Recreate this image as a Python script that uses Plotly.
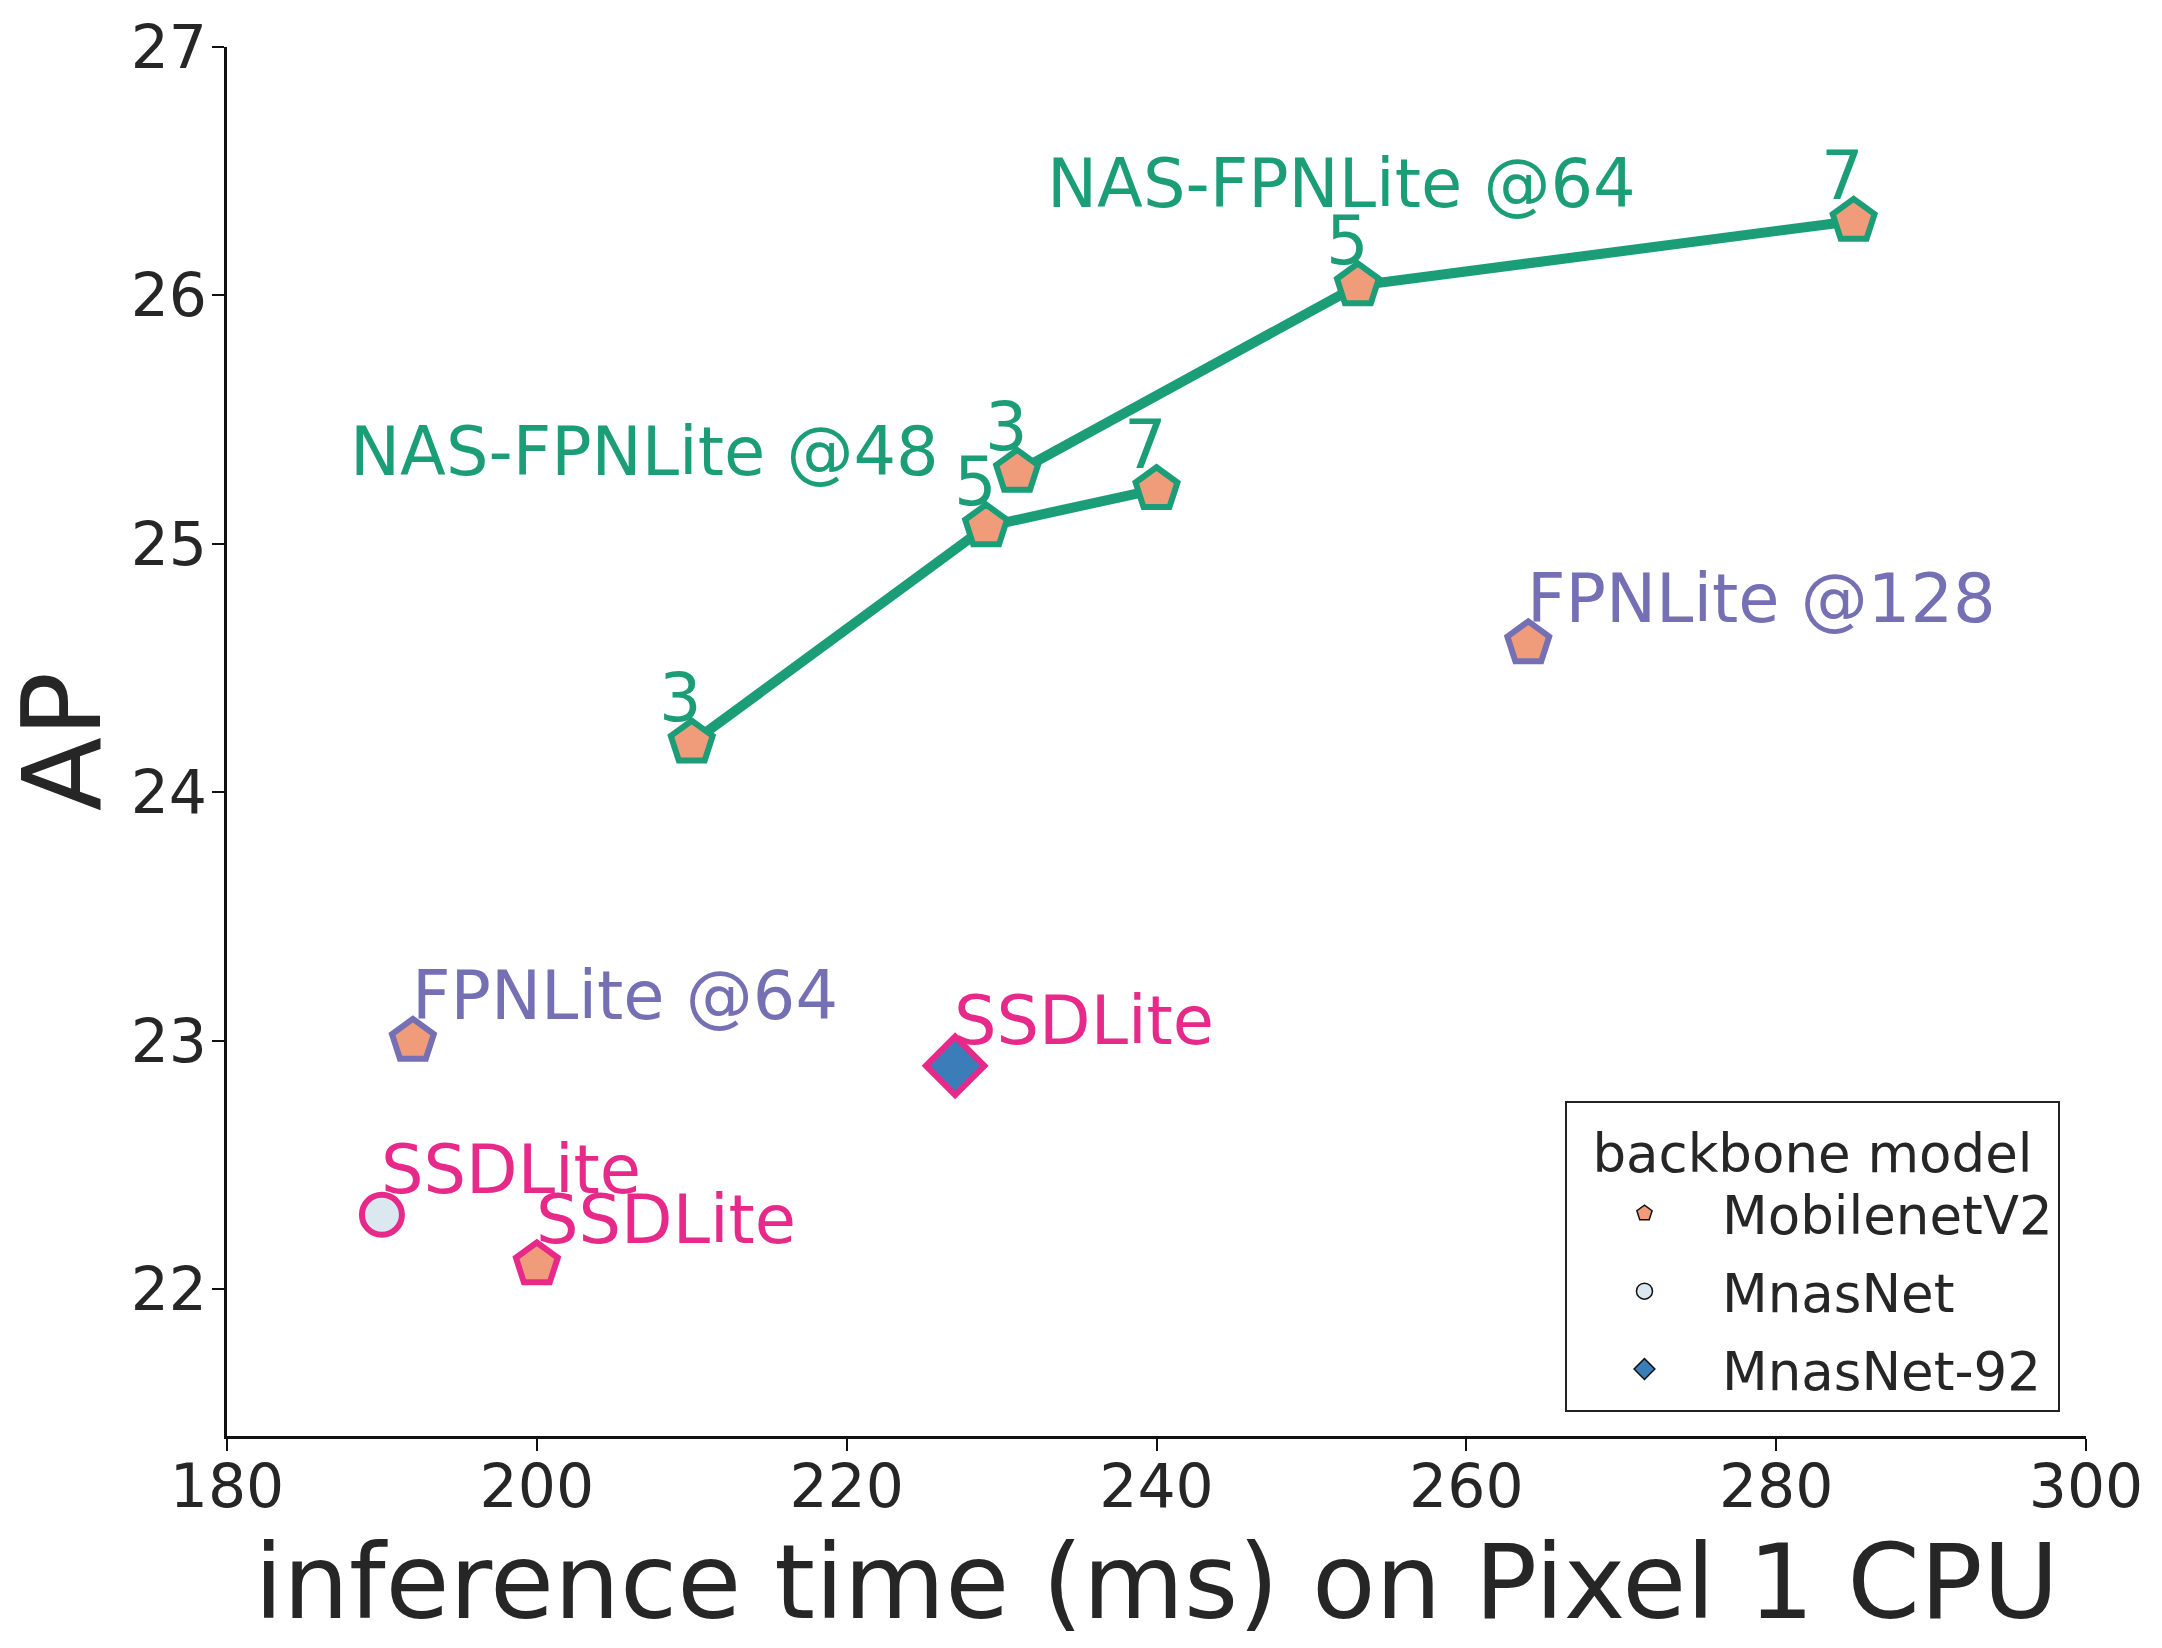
import plotly.graph_objects as go

# ---------------- data ----------------
nas48_x = [210, 229, 240]
nas48_y = [24.2, 25.07, 25.22]
nas64_x = [231, 253, 285]
nas64_y = [25.29, 26.04, 26.30]
kernel_labels = ["3", "5", "7"]

fpn_x = [192, 264]
fpn_y = [23.0, 24.6]
fpn_labels = ["FPNLite @64", "FPNLite @128"]

ssd_x = [190, 200, 227]
ssd_y = [22.3, 22.1, 22.9]
ssd_backbone = ["MnasNet", "MobilenetV2", "MnasNet-92"]
ssd_labels = ["SSDLite", "SSDLite", "SSDLite"]

nas_group_labels = ["NAS-FPNLite @48", "NAS-FPNLite @64"]
nas_group_label_pos = [(187.8, 25.37), (232.8, 26.45)]

backbones = ["MobilenetV2", "MnasNet", "MnasNet-92"]
x_ticks = [180, 200, 220, 240, 260, 280, 300]
y_ticks = [22, 23, 24, 25, 26, 27]

# ---------------- styles ----------------
GREEN = "#1b9e77"
PURPLE = "#7570b3"
PINK = "#e7298a"
TEXT = "#262626"
FONT = "DejaVu Sans"
bb_fill = {"MobilenetV2": "#f09c7b", "MnasNet": "#dbe8f0", "MnasNet-92": "#3a7db8"}
bb_symbol = {"MobilenetV2": "pentagon", "MnasNet": "circle", "MnasNet-92": "diamond"}
bb_size = {"MobilenetV2": 44, "MnasNet": 40, "MnasNet-92": 45}
EDGE_W = 6

fig = go.Figure()

# NAS-FPNLite lines
for xs, ys in [(nas48_x, nas48_y), (nas64_x, nas64_y)]:
    fig.add_trace(go.Scatter(
        x=xs, y=ys, mode="lines+markers", showlegend=False,
        line=dict(color=GREEN, width=10),
        marker=dict(symbol="pentagon", size=bb_size["MobilenetV2"], opacity=1,
                    color=bb_fill["MobilenetV2"], line=dict(color=GREEN, width=EDGE_W)),
        hoverinfo="skip"))

# FPNLite points
fig.add_trace(go.Scatter(
    x=fpn_x, y=fpn_y, mode="markers", showlegend=False,
    marker=dict(symbol="pentagon", size=bb_size["MobilenetV2"], opacity=1,
                color=bb_fill["MobilenetV2"], line=dict(color=PURPLE, width=EDGE_W))))

# SSDLite points
fig.add_trace(go.Scatter(
    x=ssd_x, y=ssd_y, mode="markers", showlegend=False,
    marker=dict(symbol=[bb_symbol[b] for b in ssd_backbone],
                size=[bb_size[b] for b in ssd_backbone],
                color=[bb_fill[b] for b in ssd_backbone], opacity=1,
                line=dict(color=PINK, width=EDGE_W))))

# legend entries
for b in backbones:
    fig.add_trace(go.Scatter(
        x=[None], y=[None], mode="markers", name=b, legendgroup=b,
        marker=dict(symbol=bb_symbol[b], size=bb_size[b], color=bb_fill[b], opacity=1,
                    line=dict(color="#111111", width=1.5))))

ann_font = dict(family=FONT, size=67)

# kernel size labels
for xs, ys in [(nas48_x, nas48_y), (nas64_x, nas64_y)]:
    for x, y, k in zip(xs, ys, kernel_labels):
        fig.add_annotation(x=x - 0.7, y=y + 0.18, text=k, showarrow=False,
                           xanchor="center", yanchor="middle",
                           font=dict(ann_font, color=GREEN))

for (lx, ly), t in zip(nas_group_label_pos, nas_group_labels):
    fig.add_annotation(x=lx, y=ly, text=t, showarrow=False,
                       xanchor="left", yanchor="middle",
                       font=dict(ann_font, color=GREEN))

for x, y, t in zip(fpn_x, fpn_y, fpn_labels):
    fig.add_annotation(x=x - 0.2, y=y + 0.18, text=t, showarrow=False,
                       xanchor="left", yanchor="middle",
                       font=dict(ann_font, color=PURPLE))

for x, y, t in zip(ssd_x, ssd_y, ssd_labels):
    fig.add_annotation(x=x - 0.2, y=y + 0.18, text=t, showarrow=False,
                       xanchor="left", yanchor="middle",
                       font=dict(ann_font, color=PINK))

axis_common = dict(
    showgrid=False, zeroline=False, showline=True, linecolor="#111111", linewidth=3,
    ticks="outside", ticklen=12, tickwidth=2, tickcolor="#111111",
    tickfont=dict(family=FONT, size=60, color=TEXT),
)

fig.update_layout(
    width=2162, height=1648,
    margin=dict(l=227, r=76, t=44, b=212),
    paper_bgcolor="white", plot_bgcolor="white",
    font=dict(family=FONT, color=TEXT),
    xaxis=dict(axis_common, range=[180, 300], tickvals=x_ticks,
               ticklabelstandoff=-16,
               title=dict(text="inference time (ms) on Pixel 1 CPU",
                          font=dict(family=FONT, size=104, color=TEXT), standoff=20)),
    yaxis=dict(axis_common, range=[21.41, 27], tickvals=y_ticks,
               ticklabelstandoff=-7,
               title=dict(text="AP", font=dict(family=FONT, size=108, color=TEXT), standoff=37)),
    legend=dict(
        x=0.986, xanchor="right", y=0.017, yanchor="bottom",
        bgcolor="white", bordercolor="#222222", borderwidth=2,
        font=dict(family=FONT, size=53, color=TEXT),
        title=dict(text="backbone model", side="top center",
                   font=dict(family=FONT, size=53, color=TEXT)),
        itemwidth=145, tracegroupgap=6,
    ),
)

fig.write_html("out.html")
